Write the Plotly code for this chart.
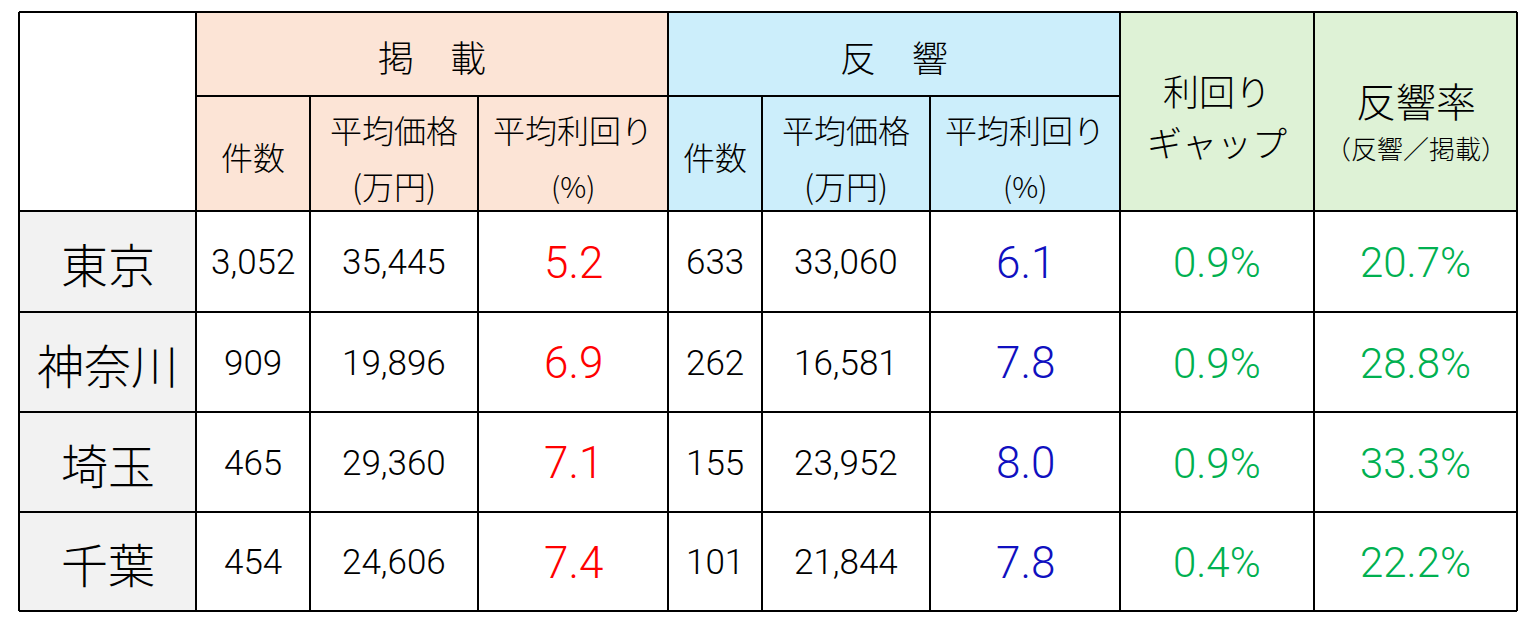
import plotly.graph_objects as go

prefectures = ['東京', '神奈川', '埼玉', '千葉']
listing_count = ['3,052', '909', '465', '454']
listing_price = ['35,445', '19,896', '29,360', '24,606']
listing_yield = ['5.2', '6.9', '7.1', '7.4']
response_count = ['633', '262', '155', '101']
response_price = ['33,060', '16,581', '23,952', '21,844']
response_yield = ['6.1', '7.8', '8.0', '7.8']
yield_gap = ['0.9%', '0.9%', '0.9%', '0.4%']
response_rate = ['20.7%', '28.8%', '33.3%', '22.2%']

# Table geometry (pixel grid of the page)
col_edges = [19, 196, 310, 478, 668, 762, 930, 1120, 1314, 1517]
row_edges = [12, 96, 211, 312, 412, 512, 611]

JP = 'Noto Sans CJK JP'
NUM = 'Roboto'
PEACH = '#FCE4D6'
BLUE = '#CCEEFB'
GREEN = '#DEF2D6'
GRAY = '#F2F2F2'
LINE = 'black'

fig = go.Figure()
shapes = []
annotations = []


def rect(x0, x1, y0, y1, color):
    shapes.append(dict(type='rect', xref='x', yref='y', x0=x0, x1=x1, y0=y0, y1=y1,
                       fillcolor=color, line=dict(width=0), layer='below'))


def hline(y, x0, x1):
    shapes.append(dict(type='line', xref='x', yref='y', x0=x0, x1=x1, y0=y, y1=y,
                       line=dict(color=LINE, width=2)))


def vline(x, y0, y1):
    shapes.append(dict(type='line', xref='x', yref='y', x0=x, x1=x, y0=y0, y1=y1,
                       line=dict(color=LINE, width=2)))


def label(x, y, text, size, color='black', family=JP, weight=300):
    annotations.append(dict(x=x, y=y, xref='x', yref='y', text=text, showarrow=False,
                            xanchor='center', yanchor='middle',
                            font=dict(family=family, size=size, color=color, weight=weight)))


top, mid, head_bot = row_edges[0], row_edges[1], row_edges[2]
bottom = row_edges[-1]
c = col_edges

# header backgrounds
rect(c[1], c[4], top, head_bot, PEACH)
rect(c[4], c[7], top, head_bot, BLUE)
rect(c[7], c[9], top, head_bot, GREEN)
# row label backgrounds
rect(c[0], c[1], head_bot, bottom, GRAY)

# grid lines
for y in row_edges[2:]:
    hline(y, c[0], c[9])
hline(top, c[0], c[9])
hline(mid, c[1], c[7])
for i, x in enumerate(col_edges):
    if i in (0, 1, 4, 7, 8, 9):
        vline(x, top, bottom)
    else:
        vline(x, mid, bottom)


def cx(i):
    return (col_edges[i] + col_edges[i + 1]) / 2


# group headers
label((c[1] + c[4]) / 2, 56, '掲　載', 36)
label((c[4] + c[7]) / 2, 56, '反　響', 36)
label(cx(7), 90, '利回り', 36)
label(cx(7), 141, 'ギャップ', 35)
label(cx(8), 118, "<span style='font-size:40px'>反響率</span><br>"
                  "<span style='font-size:26px'>（反響／掲載）</span>", 32)

# sub headers
for base in (1, 4):
    label(cx(base), 156, '件数', 32)
    label(cx(base + 1), 129, '平均価格', 32)
    label(cx(base + 1), 185, '(万円)', 32)
    label(cx(base + 2), 129, '平均利回り', 32)
    label(cx(base + 2), 185, '(%)', 29)

# body
for r, pref in enumerate(prefectures):
    yc = (row_edges[r + 2] + row_edges[r + 3]) / 2 + 1
    label(cx(0), yc, pref, 47)
    label(cx(1), yc, listing_count[r], 35, family=NUM)
    label(cx(2), yc, listing_price[r], 35, family=NUM)
    label(cx(3), yc, listing_yield[r], 44, color='#FF0000', family=NUM)
    label(cx(4), yc, response_count[r], 35, family=NUM)
    label(cx(5), yc, response_price[r], 35, family=NUM)
    label(cx(6), yc, response_yield[r], 44, color='#1010C0', family=NUM)
    label(cx(7), yc, yield_gap[r], 42, color='#00B050', family=NUM)
    label(cx(8), yc, response_rate[r], 42, color='#00B050', family=NUM)

# the page body adds an 8px offset, so the axes start at 8
fig.update_layout(
    width=1522, height=617,
    margin=dict(l=0, r=0, t=0, b=0),
    paper_bgcolor='white', plot_bgcolor='white',
    xaxis=dict(range=[8, 1530], visible=False, fixedrange=True),
    yaxis=dict(range=[625, 8], visible=False, fixedrange=True),
    shapes=shapes,
    annotations=annotations,
    showlegend=False,
)

fig.write_html("out.html")
